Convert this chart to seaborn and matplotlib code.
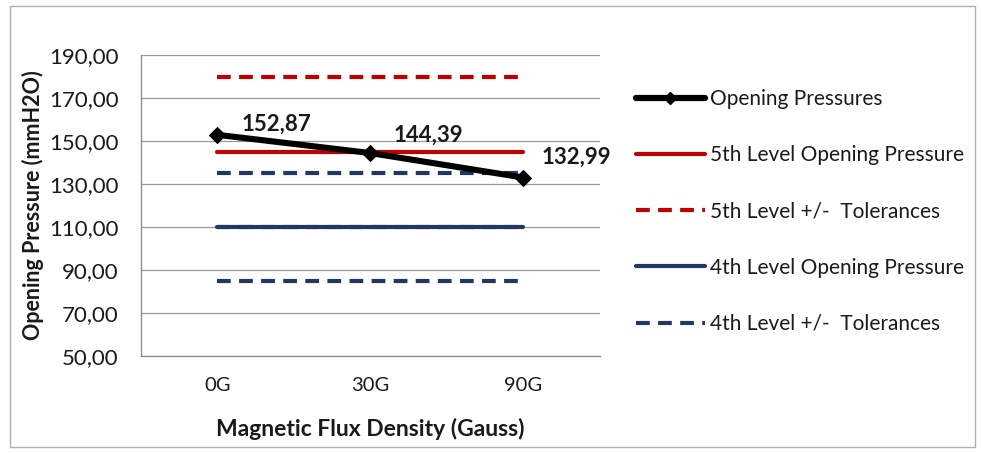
import matplotlib
matplotlib.use("Agg")
import matplotlib.pyplot as plt
import seaborn as sns
import pandas as pd
from matplotlib.ticker import FuncFormatter
from matplotlib.lines import Line2D
from matplotlib.patches import Rectangle

categories = ["0G", "30G", "90G"]
opening_pressures = [152.87, 144.39, 132.99]
level5_opening = [145, 145, 145]
level5_upper = [180, 180, 180]
level5_lower = [110, 110, 110]
level4_opening = [110, 110, 110]
level4_upper = [135, 135, 135]
level4_lower = [85, 85, 85]
y_ticks = [50, 70, 90, 110, 130, 150, 170, 190]

sns.set_theme(style="white")
plt.rcParams["font.family"] = ["Lato", "DejaVu Sans"]

RED = "#c00000"
NAVY = "#1f3864"
TEXT = "#1a1a1a"
LW = 3.0
DASH = (3.3, 2.0)

fig = plt.figure(figsize=(9.82, 4.53), dpi=100)
ax = fig.add_axes([141 / 982, 1 - 356 / 453, 459 / 982, 301 / 453])

x = list(range(len(categories)))

def draw(values, color, lw, dashes=None, marker=None, ms=0, z=2):
    df = pd.DataFrame({"x": x, "y": values})
    sns.lineplot(data=df, x="x", y="y", ax=ax, color=color, linewidth=lw,
                 marker=marker, markersize=ms, markeredgecolor=color,
                 zorder=z, legend=False)
    line = ax.lines[-1]
    if dashes is not None:
        line.set_linestyle((0, dashes))
        line.set_dash_capstyle("butt")
    else:
        line.set_solid_capstyle("round")
    return line

draw(level5_upper, RED, LW, dashes=DASH, z=2)
draw(level5_lower, RED, LW, dashes=DASH, z=2)
draw(level4_opening, NAVY, LW, z=3)
draw(level4_upper, NAVY, LW, dashes=DASH, z=3)
draw(level4_lower, NAVY, LW, dashes=DASH, z=3)
draw(level5_opening, RED, LW, z=4)
draw(opening_pressures, "black", 4.4, marker="D", ms=8, z=5)

# value labels, offsets in pixels from each point
label_offsets = [(24, 11), (23, 18), (18, 20)]
for xi, v, off in zip(x, opening_pressures, label_offsets):
    ax.annotate(f"{v:.2f}".replace(".", ","), (xi, v), xytext=off,
                textcoords="offset pixels", fontsize=16, fontweight="bold",
                color=TEXT, ha="left", va="center")

ax.set_xlim(-0.5, 2.5)
ax.set_ylim(50, 190)
ax.set_yticks(y_ticks)
ax.yaxis.set_major_formatter(FuncFormatter(lambda v, p: f"{v:.2f}".replace(".", ",")))
ax.set_xticks([-0.5, 0.5, 1.5, 2.5])
ax.set_xticklabels([])
ax.set_xticks(x, minor=True)
ax.set_xticklabels(categories, minor=True)
ax.tick_params(axis="x", which="minor", length=0, pad=15, labelsize=14.5, colors=TEXT)
ax.tick_params(axis="x", which="major", length=6, color="#888888", direction="out")
ax.tick_params(axis="y", length=6, color="#888888", direction="out", labelsize=16, colors=TEXT, pad=10)
ax.grid(axis="y", color="#9a9a9a", linewidth=0.9)
ax.set_axisbelow(True)
for side in ["top", "right"]:
    ax.spines[side].set_visible(False)
for side in ["left", "bottom"]:
    ax.spines[side].set_color("#888888")
    ax.spines[side].set_linewidth(0.9)

ax.set_xlabel("Magnetic Flux Density (Gauss)", fontsize=16.5, fontweight="bold", color=TEXT, labelpad=17)
ax.set_ylabel("Opening Pressure (mmH2O)", fontsize=15.5, fontweight="bold", color=TEXT, labelpad=4)

handles = [
    Line2D([], [], color="black", linewidth=4.5, marker="D", markersize=6),
    Line2D([], [], color=RED, linewidth=LW),
    Line2D([], [], color=RED, linewidth=LW, linestyle=(0, DASH)),
    Line2D([], [], color=NAVY, linewidth=LW),
    Line2D([], [], color=NAVY, linewidth=LW, linestyle=(0, DASH)),
]
labels = ["Opening Pressures", "5th Level Opening Pressure", "5th Level +/-  Tolerances",
          "4th Level Opening Pressure", "4th Level +/-  Tolerances"]
leg = fig.legend(handles, labels, loc="upper left", bbox_to_anchor=(636 / 982, 1 - 89 / 453),
                 frameon=False, fontsize=15, handlelength=3.3, handletextpad=0.25,
                 labelspacing=1.74, borderaxespad=0, borderpad=0)
for t in leg.get_texts():
    t.set_color(TEXT)

fig.patches.append(Rectangle((10 / 982, 1 - 447 / 453), 965 / 982, 441 / 453,
                             transform=fig.transFigure, fill=False,
                             edgecolor="#b0b0b0", linewidth=1.0))

fig.savefig("out.png", dpi=100)
